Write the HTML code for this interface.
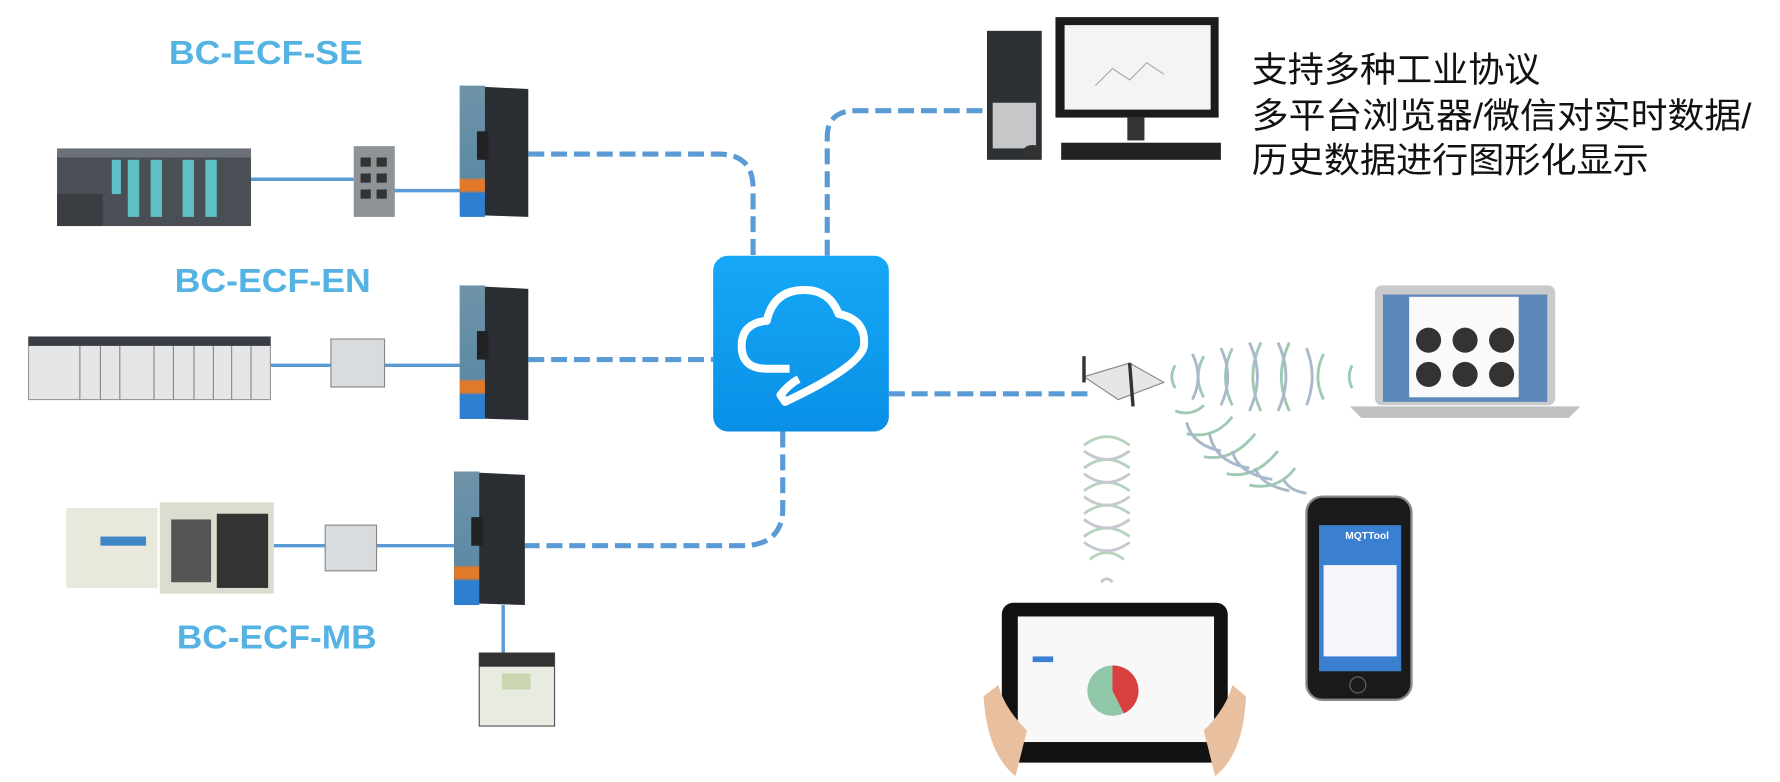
<!DOCTYPE html>
<html><head><meta charset="utf-8"><style>html,body{margin:0;padding:0;background:#fff;}svg{display:block}</style></head><body>
<svg width="1780" height="782" viewBox="0 0 1560 685" preserveAspectRatio="none" xmlns="http://www.w3.org/2000/svg">
<defs>
<linearGradient id="cg" x1="0" y1="0" x2="0" y2="1"><stop offset="0" stop-color="#16a8f7"/><stop offset="1" stop-color="#0990e6"/></linearGradient>
<linearGradient id="gw" x1="0" y1="0" x2="0" y2="1"><stop offset="0" stop-color="#6f93a8"/><stop offset="0.7" stop-color="#5d8aa6"/><stop offset="0.72" stop-color="#e07a2a"/><stop offset="0.8" stop-color="#e07a2a"/><stop offset="0.82" stop-color="#2f7fd0"/><stop offset="1" stop-color="#2f7fd0"/></linearGradient>
</defs>
<g font-family="Liberation Sans, sans-serif" font-weight="bold" font-size="29" fill="#55b3e3">
<text x="148" y="56" textLength="170" lengthAdjust="spacingAndGlyphs">BC-ECF-SE</text>
<text x="153" y="256" textLength="172" lengthAdjust="spacingAndGlyphs">BC-ECF-EN</text>
<text x="155" y="568" textLength="175" lengthAdjust="spacingAndGlyphs">BC-ECF-MB</text>
</g>
<g font-family="Liberation Sans, 'Noto Sans CJK SC', sans-serif" font-size="31" fill="#111">
<text x="1097" y="72" textLength="253" lengthAdjust="spacingAndGlyphs">支持多种工业协议</text>
<text x="1097" y="112" textLength="438" lengthAdjust="spacingAndGlyphs">多平台浏览器/微信对实时数据/</text>
<text x="1097" y="151" textLength="348" lengthAdjust="spacingAndGlyphs">历史数据进行图形化显示</text>
</g>
<g stroke="#5b9bd5" stroke-width="3" fill="none">
<line x1="220" y1="157" x2="310" y2="157"/><line x1="345" y1="167" x2="403" y2="167"/>
<line x1="237" y1="320" x2="290" y2="320"/><line x1="337" y1="320" x2="403" y2="320"/>
<line x1="240" y1="478" x2="285" y2="478"/><line x1="330" y1="478" x2="398" y2="478"/>
<line x1="441" y1="530" x2="441" y2="575"/>
</g>
<g stroke="#5b9bd5" stroke-width="4.5" fill="none" stroke-dasharray="14 6">
<path d="M463 135 H630 Q660 135 660 165 V224"/>
<path d="M725 224 V120 Q725 97 750 97 H862"/>
<path d="M463 315 H625"/>
<path d="M779 345 H955"/>
<path d="M686 378 V445 Q686 478 650 478 H460"/>
</g>
<rect x="625" y="224" width="154" height="154" rx="13" fill="url(#cg)"/>
<path d="M692 323 H672 Q650 323 650 303 Q650 283 672 281 Q678 254 705 254 Q727 254 735 275 Q760 280 757 304 Q752 322 688 352 L684 346 Q692 336 700 332" fill="none" stroke="#fff" stroke-width="7" stroke-linejoin="round"/>
<rect x="50" y="135" width="170" height="63" fill="#4a4f55"/>
<rect x="50" y="130" width="170" height="8" fill="#6c7177"/>
<rect x="112" y="140" width="10" height="50" fill="#5fbfc4"/><rect x="132" y="140" width="10" height="50" fill="#5fbfc4"/><rect x="160" y="140" width="10" height="50" fill="#5fbfc4"/><rect x="180" y="140" width="10" height="50" fill="#5fbfc4"/><rect x="98" y="140" width="8" height="30" fill="#5fbfc4"/>
<rect x="50" y="170" width="40" height="28" fill="#3a3e43"/>
<rect x="310" y="128" width="36" height="62" fill="#8d9396"/>
<g fill="#333"><rect x="316" y="138" width="9" height="8"/><rect x="330" y="138" width="9" height="8"/><rect x="316" y="152" width="9" height="8"/><rect x="330" y="152" width="9" height="8"/><rect x="316" y="166" width="9" height="8"/><rect x="330" y="166" width="9" height="8"/></g>
<g>
<polygon points="403,75 463,78 463,190 403,188" fill="#2a2d31"/><rect x="403" y="75" width="22" height="115" fill="url(#gw)"/><rect x="418" y="115" width="10" height="25" fill="#222"/>
<polygon points="403,250 463,253 463,368 403,366" fill="#2a2d31"/><rect x="403" y="250" width="22" height="117" fill="url(#gw)"/><rect x="418" y="290" width="10" height="25" fill="#222"/>
<polygon points="398,413 460,416 460,530 398,528" fill="#2a2d31"/><rect x="398" y="413" width="22" height="117" fill="url(#gw)"/><rect x="413" y="453" width="10" height="25" fill="#222"/>
</g>
<rect x="25" y="295" width="212" height="55" fill="#e4e6e8" stroke="#999"/>
<rect x="25" y="295" width="212" height="8" fill="#3a3d45"/>
<g stroke="#888"><line x1="70" y1="303" x2="70" y2="350"/><line x1="88" y1="303" x2="88" y2="350"/><line x1="105" y1="303" x2="105" y2="350"/><line x1="135" y1="303" x2="135" y2="350"/><line x1="152" y1="303" x2="152" y2="350"/><line x1="170" y1="303" x2="170" y2="350"/><line x1="187" y1="303" x2="187" y2="350"/><line x1="203" y1="303" x2="203" y2="350"/><line x1="220" y1="303" x2="220" y2="350"/></g>
<rect x="290" y="297" width="47" height="42" fill="#d9dcdf" stroke="#888"/>
<rect x="58" y="445" width="80" height="70" fill="#e8e8dc"/>
<rect x="140" y="440" width="100" height="80" fill="#dcdcd0"/>
<rect x="150" y="455" width="35" height="55" fill="#555"/><rect x="190" y="450" width="45" height="65" fill="#333"/>
<rect x="88" y="470" width="40" height="8" fill="#3f88c8"/>
<rect x="285" y="460" width="45" height="40" fill="#d9dcdf" stroke="#888"/>
<rect x="420" y="572" width="66" height="64" fill="#e8ece0" stroke="#555"/>
<rect x="420" y="572" width="66" height="12" fill="#333"/>
<rect x="440" y="590" width="25" height="14" fill="#c9d6b0"/>
<rect x="865" y="27" width="48" height="113" fill="#2e3134"/><rect x="870" y="90" width="38" height="40" fill="#c5c7c9"/>
<rect x="925" y="15" width="143" height="88" fill="#1c1c1c"/><rect x="933" y="22" width="128" height="74" fill="#f4f4f4"/>
<path d="M960 75 L975 60 L990 70 L1005 55 L1020 65" stroke="#aaa" fill="none"/>
<rect x="988" y="103" width="15" height="20" fill="#333"/>
<rect x="930" y="125" width="140" height="15" fill="#222"/>
<ellipse cx="905" cy="132" rx="8" ry="5" fill="#333"/>
<polygon points="950,330 990,318 1020,335 980,350" fill="#e6e6e6" stroke="#888"/>
<line x1="950" y1="312" x2="950" y2="335" stroke="#333" stroke-width="3"/><line x1="990" y1="318" x2="993" y2="356" stroke="#333" stroke-width="3"/>
<g fill="none" stroke-width="2.5" opacity="0.75">
<g stroke="#7fb89a"><path d="M1030 320 q-6 10 0 20"/><path d="M1055 312 q-10 18 0 36"/><path d="M1080 305 q-12 25 0 50"/><path d="M1105 300 q-14 30 0 60"/><path d="M1130 300 q-14 30 0 60"/><path d="M1160 310 q-10 20 0 40"/><path d="M1185 320 q-5 10 0 20"/></g>
<g stroke="#8ca2b8"><path d="M1045 310 q10 20 0 40"/><path d="M1070 305 q12 25 0 50"/><path d="M1095 300 q14 30 0 60"/><path d="M1120 300 q14 30 0 60"/><path d="M1145 305 q10 25 0 50"/></g>
<g stroke="#7fb89a"><path d="M1030 360 q15 5 25 -5"/><path d="M1040 380 q25 5 40 -15"/><path d="M1055 400 q25 5 45 -20"/><path d="M1075 415 q25 5 45 -20"/><path d="M1095 425 q25 5 40 -15"/></g>
<g stroke="#8ca2b8"><path d="M1040 370 q5 20 30 25"/><path d="M1060 380 q5 25 35 30"/><path d="M1080 395 q5 20 35 25"/><path d="M1100 410 q5 15 30 20"/><path d="M1125 420 q5 10 20 12"/></g>
<g stroke="#9fc4a8"><path d="M950 390 q20 -15 40 0"/><path d="M950 410 q20 -15 40 0"/><path d="M950 430 q20 -15 40 0"/><path d="M950 450 q20 -15 40 0"/><path d="M950 470 q20 -15 40 0"/><path d="M955 490 q15 -12 30 0"/></g>
<g stroke="#b0b8c0"><path d="M950 395 q20 15 40 0"/><path d="M950 415 q20 15 40 0"/><path d="M950 435 q20 15 40 0"/><path d="M950 455 q20 15 40 0"/><path d="M950 475 q20 15 40 0"/><path d="M965 510 q5 -6 10 0"/></g>
</g>
<rect x="1205" y="250" width="158" height="105" rx="6" fill="#c8cacc"/>
<rect x="1212" y="258" width="144" height="94" fill="#5b88b8"/>
<rect x="1235" y="260" width="96" height="88" fill="#fafafa"/>
<g fill="#333"><circle cx="1252" cy="298" r="11"/><circle cx="1284" cy="298" r="11"/><circle cx="1316" cy="298" r="11"/><circle cx="1252" cy="328" r="11"/><circle cx="1284" cy="328" r="11"/><circle cx="1316" cy="328" r="11"/></g>
<polygon points="1183,356 1385,356 1375,366 1193,366" fill="#bfc1c3"/>
<rect x="1145" y="435" width="92" height="178" rx="14" fill="#1a1a1a" stroke="#888" stroke-width="2"/>
<rect x="1156" y="460" width="72" height="128" fill="#3b7fd0"/>
<rect x="1160" y="495" width="64" height="80" fill="#f4f6fa"/>
<text x="1179" y="472" font-family="Liberation Sans, sans-serif" font-size="9" fill="#fff" font-weight="bold">MQTTool</text>
<circle cx="1190" cy="600" r="7" fill="none" stroke="#666"/>
<rect x="878" y="528" width="198" height="140" rx="10" fill="#111"/>
<rect x="892" y="540" width="172" height="110" fill="#f8f8f8"/>
<circle cx="975" cy="605" r="22" fill="#8fc7a8"/><path d="M975 605 V583 A22 22 0 0 1 985 625 Z" fill="#d84040"/>
<rect x="905" y="575" width="18" height="5" fill="#3b7fd0"/>
<path d="M862 610 Q865 660 890 680 L900 640 Q880 620 875 600 Z" fill="#e8c0a0"/>
<path d="M1092 610 Q1090 660 1065 680 L1055 640 Q1075 620 1080 600 Z" fill="#e8c0a0"/>
</svg>
</body></html>
